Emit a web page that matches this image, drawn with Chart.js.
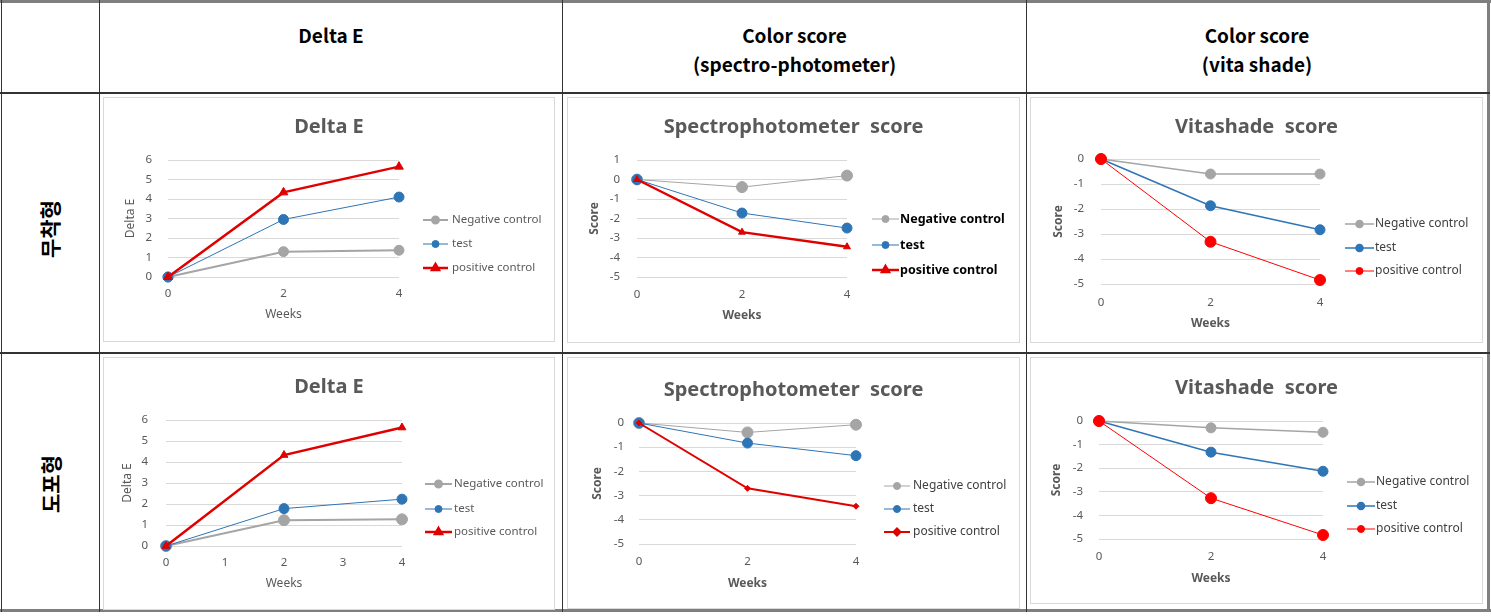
<!DOCTYPE html>
<html>
<head>
<meta charset="utf-8">
<script src="https://cdn.jsdelivr.net/npm/chart.js@4.4.0/dist/chart.umd.min.js"></script>
<style>
  body { margin: 0; background: #fff; font-family: "Noto Sans", sans-serif; }
  #page { position: relative; width: 1491px; height: 616px; overflow: hidden; }
  .ln { position: absolute; background: #333; }
  .hd { position: absolute; text-align: center; font-family: "Noto Sans CJK KR", sans-serif; font-weight: bold; font-size: 19px; line-height: 29px; color: #000; }
  .side { position: absolute; font-family: "Noto Sans CJK KR", sans-serif; font-weight: bold; font-size: 21px; color: #000; transform: translate(-50%, -50%) rotate(-90deg); white-space: nowrap; }
  .box { position: absolute; border: 1px solid #d9d9d9; box-sizing: border-box; background: #fff; }
  .box canvas { position: absolute; left: -1px; top: -1px; }
</style>
</head>
<body>
<div id="page">
  <!-- table lines -->
  <div class="ln" style="left:0;top:0;width:1491px;height:3px;background:#7f7f7f"></div>
  <div class="ln" style="left:0;top:609px;width:1491px;height:3px;background:#7f7f7f"></div>
  <div class="ln" style="left:1px;top:0;width:1px;height:612px"></div>
  <div class="ln" style="left:1487px;top:0;width:3px;height:612px;background:#7f7f7f"></div>
  <div class="ln" style="left:99px;top:0;width:1px;height:612px"></div>
  <div class="ln" style="left:562px;top:0;width:1px;height:612px"></div>
  <div class="ln" style="left:1026px;top:0;width:1px;height:612px"></div>
  <div class="ln" style="left:0;top:92px;width:1490px;height:2px"></div>
  <div class="ln" style="left:0;top:352px;width:1490px;height:2px"></div>

  <div class="hd" style="left:100px;top:20px;width:462px">Delta E</div>
  <div class="hd" style="left:563px;top:20px;width:463px">Color score<br>(spectro-photometer)</div>
  <div class="hd" style="left:1027px;top:20px;width:460px">Color score<br>(vita shade)</div>

  <div class="side" style="left:49px;top:229px">무착형</div>
  <div class="side" style="left:50px;top:484px">도포형</div>

  <div class="box" style="left:103px;top:97px;width:452px;height:245px"><canvas id="c1" width="452" height="245"></canvas></div>
  <div class="box" style="left:567px;top:97px;width:453px;height:246px"><canvas id="c2" width="453" height="246"></canvas></div>
  <div class="box" style="left:1030px;top:97px;width:453px;height:246px"><canvas id="c3" width="453" height="246"></canvas></div>
  <div class="box" style="left:103px;top:357px;width:452px;height:253px"><canvas id="c4" width="452" height="253"></canvas></div>
  <div class="box" style="left:567px;top:357px;width:453px;height:252px"><canvas id="c5" width="453" height="252"></canvas></div>
  <div class="box" style="left:1030px;top:357px;width:453px;height:247px"><canvas id="c6" width="453" height="247"></canvas></div>
</div>

<script>
// ---- data ----
const weeks = [0, 2, 4];
const seriesNames = ['Negative control', 'test', 'positive control'];

// 무착형 (row 1)
const deltaE1Neg = [0, 1.3, 1.37];
const deltaE1Test = [0, 2.95, 4.1];
const deltaE1Pos = [0, 4.34, 5.66];

const spectro1Neg = [0, -0.39, 0.2];
const spectro1Test = [0, -1.72, -2.49];
const spectro1Pos = [0, -2.7, -3.45];

const vita1Neg = [0, -0.6, -0.6];
const vita1Test = [0, -1.87, -2.83];
const vita1Pos = [0, -3.31, -4.84];

// 도포형 (row 2)
const deltaE2Neg = [0, 1.23, 1.27];
const deltaE2Test = [0, 1.78, 2.23];
const deltaE2Pos = [0, 4.33, 5.64];

const spectro2Neg = [0, -0.39, -0.07];
const spectro2Test = [0, -0.83, -1.35];
const spectro2Pos = [0, -2.7, -3.44];

const vita2Neg = [0, -0.29, -0.48];
const vita2Test = [0, -1.32, -2.13];
const vita2Pos = [0, -3.27, -4.83];

// ---- styles ----
const GRAY = '#a5a5a5';
const BLUE = '#2e75b6';
const RED = '#ff0000';
const FONT = '"Noto Sans", sans-serif';
const TITLE_SIZE = 20;
const TICK_SIZE = 11.5;
const AXIS_TITLE_SIZE = 12;

// draws an Excel-like legend: line segment with marker, then label
const lineLegend = {
  id: 'lineLegend',
  afterDraw(chart, args, opts) {
    const ctx = chart.ctx;
    ctx.save();
    chart.data.datasets.forEach((ds, i) => {
      const y = opts.ys[i];
      ctx.strokeStyle = ds.borderColor;
      ctx.lineWidth = ds.borderWidth;
      ctx.beginPath();
      ctx.moveTo(opts.x0, y);
      ctx.lineTo(opts.x1, y);
      ctx.stroke();
      ctx.fillStyle = ds.pointBackgroundColor;
      ctx.strokeStyle = ds.pointBackgroundColor;
      Chart.helpers.drawPoint(ctx, {
        pointStyle: ds.pointStyle,
        radius: ds.pointStyle === 'triangle' ? 4 : 3.5,
        rotation: 0,
        borderWidth: 1
      }, (opts.x0 + opts.x1) / 2, y);
      ctx.fillStyle = opts.color;
      ctx.font = opts.font;
      ctx.textBaseline = 'middle';
      ctx.textAlign = 'left';
      ctx.fillText(ds.label, opts.tx, y);
    });
    ctx.restore();
  }
};

function series(label, values, color, width, style, radius, order) {
  return {
    label: label,
    data: values.map((v, i) => ({ x: weeks[i], y: v })),
    borderColor: color,
    borderWidth: width,
    pointStyle: style,
    pointRadius: radius,
    pointBackgroundColor: color,
    pointBorderColor: color,
    pointBorderWidth: 1,
    tension: 0,
    clip: false,
    order: order
  };
}

function makeChart(id, c) {
  const g = c.geo;
  const canvas = document.getElementById(id);
  const W = canvas.width, H = canvas.height;
  const axisFont = { family: FONT, size: AXIS_TITLE_SIZE, weight: c.boldAxis ? 'bold' : 'normal' };
  const half = TITLE_SIZE * 0.6;
  const axHalf = AXIS_TITLE_SIZE * 0.6;
  const tkHalf = TICK_SIZE * 0.6;
  new Chart(canvas, {
    type: 'line',
    data: { datasets: c.datasets },
    plugins: [lineLegend],
    options: {
      responsive: false,
      animation: false,
      devicePixelRatio: 1,
      layout: { padding: 0 },
      plugins: {
        legend: { display: false },
        tooltip: { enabled: false },
        title: {
          display: true,
          text: c.title,
          color: '#595959',
          font: { family: FONT, size: TITLE_SIZE, weight: 'bold' },
          padding: { top: g.titleY - half, bottom: g.T - g.titleY - half }
        },
        lineLegend: c.legend
      },
      scales: {
        x: {
          type: 'linear',
          min: 0,
          max: 4,
          ticks: { stepSize: c.xStep, color: '#595959', font: { family: FONT, size: TICK_SIZE }, padding: g.xTickY - g.B - tkHalf },
          grid: { display: false, drawTicks: false },
          border: { display: false },
          title: { display: true, text: 'Weeks', color: '#595959', font: axisFont, padding: { top: 0, bottom: H - g.xTitleY - axHalf } },
          afterFit(s) { s.height = H - g.B; }
        },
        y: {
          min: c.yMin,
          max: c.yMax,
          ticks: { stepSize: 1, color: '#595959', font: { family: FONT, size: TICK_SIZE }, padding: g.yGap },
          grid: { color: '#d9d9d9', drawTicks: false },
          border: { display: false },
          title: { display: true, text: c.yTitle, color: '#595959', font: axisFont, padding: { top: g.yTitleX - axHalf, bottom: 0 } },
          afterFit(s) { s.width = g.L; }
        },
        // empty axis on the right keeps room for the legend
        side: {
          position: 'right',
          ticks: { display: false },
          grid: { display: false, drawTicks: false },
          border: { display: false },
          afterFit(s) { s.width = W - g.R; }
        }
      }
    }
  });
}

makeChart('c1', {
  title: 'Delta E', yTitle: 'Delta E', yMin: 0, yMax: 6, xStep: 2,
  geo: { L: 65, R: 296, T: 63, B: 180, titleY: 30, yTitleX: 28, yGap: 16, xTickY: 197, xTitleY: 218 },
  legend: { x0: 320, x1: 345, tx: 349, ys: [123, 147, 171], font: '11.5px ' + FONT, color: '#595959' },
  datasets: [
    series(seriesNames[0], deltaE1Neg, GRAY, 2, 'circle', 5, 3),
    series(seriesNames[1], deltaE1Test, BLUE, 1, 'circle', 5, 2),
    series(seriesNames[2], deltaE1Pos, '#e00000', 2.5, 'triangle', 5, 1)
  ]
});

makeChart('c2', {
  title: 'Spectrophotometer  score', yTitle: 'Score', yMin: -5, yMax: 1, xStep: 2, boldAxis: true,
  geo: { L: 70, R: 280, T: 63, B: 180, titleY: 30, yTitleX: 28, yGap: 17, xTickY: 198, xTitleY: 219 },
  legend: { x0: 305, x1: 332, tx: 333, ys: [122, 148, 173], font: 'bold 12.5px ' + FONT, color: '#000' },
  datasets: [
    series(seriesNames[0], spectro1Neg, GRAY, 1, 'circle', 5.5, 3),
    series(seriesNames[1], spectro1Test, BLUE, 1, 'circle', 5, 2),
    series(seriesNames[2], spectro1Pos, '#e00000', 2.5, 'triangle', 4, 1)
  ]
});

makeChart('c3', {
  title: 'Vitashade  score', yTitle: 'Score', yMin: -5, yMax: 0, xStep: 2, boldAxis: true,
  geo: { L: 71, R: 290, T: 62, B: 187, titleY: 30, yTitleX: 29, yGap: 17, xTickY: 206, xTitleY: 227 },
  legend: { x0: 315, x1: 344, tx: 345, ys: [127, 151, 174], font: '12px ' + FONT, color: '#404040' },
  datasets: [
    series(seriesNames[0], vita1Neg, GRAY, 1.5, 'circle', 5, 3),
    series(seriesNames[1], vita1Test, BLUE, 1.5, 'circle', 5, 2),
    series(seriesNames[2], vita1Pos, RED, 1, 'circle', 5.5, 1)
  ]
});

makeChart('c4', {
  title: 'Delta E', yTitle: 'Delta E', yMin: 0, yMax: 6, xStep: 1,
  geo: { L: 63, R: 299, T: 63, B: 189, titleY: 30, yTitleX: 25, yGap: 18, xTickY: 206, xTitleY: 227 },
  legend: { x0: 322, x1: 349, tx: 351, ys: [127, 152, 175], font: '11.5px ' + FONT, color: '#595959' },
  datasets: [
    series(seriesNames[0], deltaE2Neg, GRAY, 2, 'circle', 5.5, 3),
    series(seriesNames[1], deltaE2Test, BLUE, 1, 'circle', 5, 2),
    series(seriesNames[2], deltaE2Pos, '#e00000', 2.5, 'triangle', 4.5, 1)
  ]
});

makeChart('c5', {
  title: 'Spectrophotometer  score', yTitle: 'Score', yMin: -5, yMax: 0, xStep: 2, boldAxis: true,
  geo: { L: 72, R: 289, T: 66, B: 187, titleY: 33, yTitleX: 31, yGap: 15, xTickY: 205, xTitleY: 227 },
  legend: { x0: 317, x1: 343, tx: 346, ys: [129, 152, 175], font: '12px ' + FONT, color: '#404040' },
  datasets: [
    series(seriesNames[0], spectro2Neg, GRAY, 1, 'circle', 5.5, 3),
    series(seriesNames[1], spectro2Test, BLUE, 1, 'circle', 5, 2),
    series(seriesNames[2], spectro2Pos, '#e00000', 2, 'rectRot', 3, 1)
  ]
});

makeChart('c6', {
  title: 'Vitashade  score', yTitle: 'Score', yMin: -5, yMax: 0, xStep: 2, boldAxis: true,
  geo: { L: 69, R: 293, T: 64, B: 182, titleY: 31, yTitleX: 27, yGap: 16, xTickY: 200, xTitleY: 222 },
  legend: { x0: 317, x1: 345, tx: 346, ys: [125, 149, 172], font: '12px ' + FONT, color: '#404040' },
  datasets: [
    series(seriesNames[0], vita2Neg, GRAY, 1.5, 'circle', 5, 3),
    series(seriesNames[1], vita2Test, BLUE, 1.5, 'circle', 5, 2),
    series(seriesNames[2], vita2Pos, RED, 1, 'circle', 5.5, 1)
  ]
});
</script>
</body>
</html>
